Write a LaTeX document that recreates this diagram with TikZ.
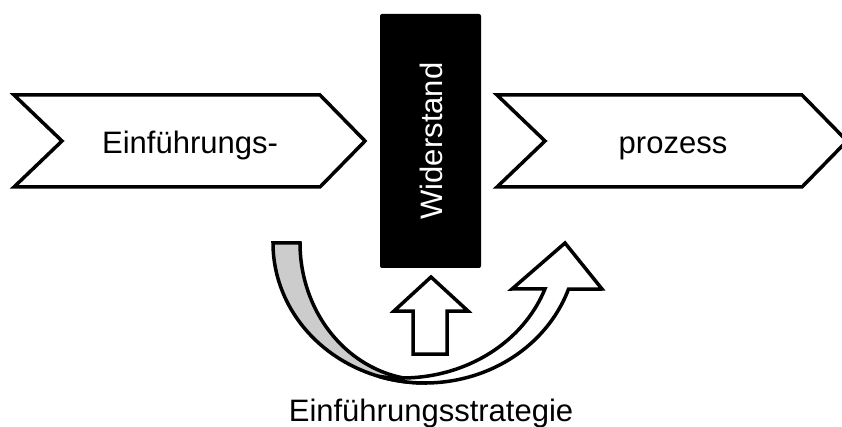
\documentclass[tikz,border=0pt]{standalone}
\usepackage{fontspec}
\setmainfont{Liberation Sans}
\begin{document}
\begin{tikzpicture}[x=1pt,y=-1pt,
  outline/.style={draw=black, line width=3.5pt, line join=miter, miter limit=6},
  lbl/.style={font=\fontsize{31}{36}\selectfont, inner sep=0pt, anchor=base},
]
\useasboundingbox (0,0) rectangle (842,427);

% process chevrons
\draw[outline, fill=white] (14,95) -- (320,95) -- (365,141) -- (320,187) -- (14,187) -- (62,141) -- cycle;
\draw[outline, fill=white] (497,95) -- (802,95) -- (847,141) -- (802,187) -- (497,187) -- (545,141) -- cycle;
\node[lbl] (step1) at (190,154) {Einführungs-};
\node[lbl] (step2) at (673,154) {prozess};

% resistance bar
\node[fill=black, rounded corners=2pt, minimum width=101pt, minimum height=254pt, inner sep=0pt] (bar) at (430.5,141) {};
\node[lbl, text=white, rotate=90] (bartext) at (442,141) {Widerstand};

% curved strategy arrow: back side (gray) of the band
\draw[outline, fill=black!20]
  plot[domain=180:90, samples=60] ({425+152*cos(\x)}, {243+140*sin(\x)})
  -- plot[domain=90:180, samples=60] ({425+125*cos(\x)}, {243+137*sin(\x)})
  -- cycle;

% front side (white) of the band with its head
\draw[outline, fill=white]
  plot[domain=19.9:98.3, samples=60] ({402+152*cos(\x)}, {243+135*sin(\x)})
  -- plot[domain=107.2:19.2, samples=60] ({425+152*cos(\x)}, {243+140*sin(\x)})
  -- (602,289) -- (565,243) -- (512,289) -- cycle;

% straight block arrow pushing against the bar
\draw[outline, fill=white] (431,277) -- (468,311) -- (447,311) -- (447,354)
  -- (413,354) -- (413,311) -- (394,311) -- cycle;

\node[lbl] (strategy) at (431,421) {Einführungsstrategie};
\end{tikzpicture}
\end{document}
